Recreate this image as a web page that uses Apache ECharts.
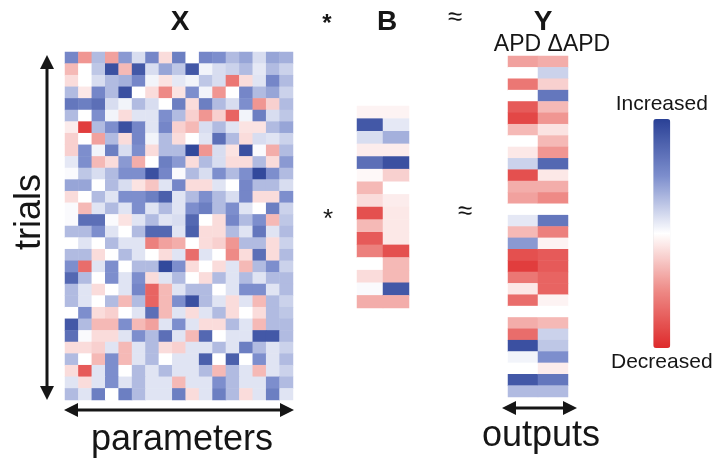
<!DOCTYPE html>
<html>
<head>
<meta charset="utf-8">
<script src="https://cdn.jsdelivr.net/npm/echarts@6/dist/echarts.min.js"></script>
<style>html,body{margin:0;padding:0;background:#fff}#c{width:716px;height:466px}</style>
</head>
<body>
<div id="c"></div>
<script>
// ---- data (values: +1 = increased / blue, -1 = decreased / red) ----
const xParams = Array.from({length: 17}, (_, i) => 'p' + (i + 1));
const trials = Array.from({length: 30}, (_, i) => 't' + (i + 1));
const outputs = ['APD', 'ΔAPD'];
const bRows = Array.from({length: 16}, (_, i) => 'b' + (i + 1));

const X_values = [
  [0.55,-0.45,0.3,-0.4,0.45,0.15,0.55,-0.15,0.6,0.0,0.55,0.5,0.3,0.4,0.15,0.4,0.35],
  [-0.3,0.0,0.25,0.9,-0.3,0.85,0.15,0.4,0.25,0.85,0.05,0.15,0.2,0.3,0.1,0.3,0.2],
  [-0.15,0.0,0.15,0.3,0.35,0.55,0.05,-0.12,0.1,0.05,0.25,0.15,-0.6,-0.15,0.12,0.55,0.3],
  [0.3,-0.1,0.55,0.3,0.9,0.0,-0.15,-0.5,-0.12,0.5,0.05,-0.45,0.0,0.55,0.3,0.4,0.2],
  [0.65,0.6,0.7,0.15,0.05,0.3,0.15,0.0,0.6,-0.15,0.6,0.3,0.15,0.5,-0.45,-0.2,0.3],
  [0.3,0.0,0.5,0.05,-0.15,0.12,0.12,0.5,0.3,-0.2,-0.45,-0.2,-0.7,0.05,0.6,0.15,0.25],
  [-0.08,-0.9,0.3,0.5,0.9,0.55,0.12,0.55,-0.2,-0.3,0.15,0.3,0.12,-0.12,-0.12,0.3,0.4],
  [-0.2,0.0,-0.4,0.3,-0.15,0.55,0.05,0.3,-0.15,0.0,0.12,0.7,0.3,-0.15,0.15,0.12,0.2],
  [-0.2,0.5,0.05,0.6,0.15,0.5,-0.15,0.3,0.3,0.95,-0.45,0.15,-0.12,0.9,0.02,-0.35,0.3],
  [0.1,0.5,-0.3,-0.15,0.45,-0.35,0.0,0.6,0.45,-0.15,0.3,0.15,-0.15,-0.15,0.3,-0.15,0.45],
  [0.02,0.25,0.15,0.3,0.5,0.5,0.9,0.55,0.02,0.3,0.15,0.5,0.3,0.5,0.95,0.5,0.3],
  [0.4,0.4,0.0,0.3,0.15,-0.12,-0.25,0.12,0.55,-0.15,-0.15,0.12,0.0,0.55,0.3,0.3,0.15],
  [-0.15,0.0,0.3,0.12,0.5,0.5,0.6,0.8,0.12,0.3,0.5,0.3,0.15,0.55,-0.15,-0.15,0.5],
  [0.02,-0.3,0.12,0.3,0.12,0.5,0.12,0.3,0.12,0.5,0.6,0.3,0.5,0.12,0.0,0.6,0.2],
  [0.02,0.7,0.7,0.02,-0.12,0.12,0.3,0.12,0.15,0.75,0.0,-0.15,0.55,0.3,0.5,-0.3,0.25],
  [0.3,0.3,0.5,0.12,0.0,0.3,0.75,0.75,0.12,0.8,-0.15,-0.15,0.3,0.12,0.65,0.12,0.3],
  [0.0,0.12,0.0,0.3,0.12,0.12,-0.55,-0.4,-0.35,0.0,-0.15,-0.2,-0.45,0.3,0.3,-0.15,0.2],
  [0.3,0.3,-0.15,0.0,0.3,0.12,0.0,-0.15,0.12,-0.65,0.12,0.0,-0.5,-0.15,0.7,-0.15,0.3],
  [0.5,-0.65,0.12,0.5,0.0,0.3,0.3,0.95,0.5,-0.15,0.0,-0.15,0.12,-0.3,0.3,0.5,0.2],
  [0.75,0.3,0.0,0.5,0.12,0.5,-0.15,0.12,0.3,0.0,-0.15,0.3,0.12,0.3,0.12,0.3,0.3],
  [0.3,0.12,-0.15,0.0,0.12,0.55,-0.7,-0.3,0.12,0.3,0.3,0.0,0.12,0.5,0.5,0.12,0.3],
  [0.3,0.12,0.0,0.3,-0.3,0.3,-0.7,-0.3,0.5,0.9,0.3,0.12,-0.15,0.12,-0.3,0.3,0.2],
  [0.0,0.5,-0.15,-0.2,0.0,0.12,0.7,-0.3,0.12,-0.15,0.12,0.3,-0.15,0.0,-0.15,0.3,0.25],
  [0.85,0.3,-0.3,-0.3,0.5,-0.3,-0.4,0.12,0.5,0.12,-0.15,-0.15,0.3,0.12,-0.3,0.3,0.3],
  [0.7,0.02,-0.15,-0.15,0.12,0.5,0.3,0.7,0.12,-0.3,0.75,0.0,0.12,0.12,0.85,0.85,0.3],
  [-0.15,-0.15,-0.2,0.12,-0.3,0.12,0.3,-0.15,-0.2,0.12,0.12,0.3,0.12,0.6,0.3,0.12,0.2],
  [0.3,0.0,-0.3,0.5,-0.3,0.12,0.3,0.0,0.12,0.12,0.8,0.0,0.8,0.0,0.5,0.12,0.3],
  [-0.15,-0.75,0.12,0.5,0.0,0.3,0.12,0.3,0.12,0.12,0.3,-0.3,0.3,0.12,-0.3,0.12,0.2],
  [0.12,-0.15,0.12,0.5,0.12,0.3,0.12,0.12,-0.3,0.12,0.12,0.5,0.3,0.12,0.12,0.5,0.3],
  [0.3,0.12,0.6,0.0,0.6,0.3,0.12,0.12,0.6,-0.15,0.12,0.6,0.3,-0.15,0.12,0.6,0.12]
];

const B_col1 = [-0.05,0.85,0.15,-0.08,0.7,-0.03,-0.3,-0.15,-0.8,-0.3,-0.75,-0.55,0.0,-0.15,0.02,-0.35];
const B_col2 = [-0.05,0.1,0.35,-0.08,0.9,-0.2,0.0,-0.08,-0.1,-0.1,-0.1,-0.8,-0.3,-0.3,0.85,-0.35];

const Y_APD  = [-0.4,0.0,-0.6,0.0,-0.75,-0.85,-0.3,0.0,-0.1,0.2,-0.8,-0.35,-0.4,0.0,0.1,-0.3,0.45,-0.8,-0.9,-0.6,-0.1,-0.65,0.0,-0.35,-0.65,0.9,0.05,0.0,0.85,0.3];
const Y_dAPD = [-0.35,0.2,-0.2,0.65,-0.3,-0.45,-0.12,-0.3,-0.45,0.75,-0.1,-0.35,-0.5,0.0,0.65,-0.55,-0.05,-0.75,-0.75,-0.7,-0.7,-0.05,0.0,-0.3,0.2,0.25,0.5,-0.08,0.65,0.3];

// ---- build heatmap triples ----
const xData = [];
X_values.forEach((row, r) => row.forEach((v, c) => xData.push([c, r, v])));
const bData = [];
B_col1.forEach((v, r) => bData.push([0, r, v]));
B_col2.forEach((v, r) => bData.push([1, r, v]));
const yData = [];
Y_APD.forEach((v, r) => yData.push([0, r, v]));
Y_dAPD.forEach((v, r) => yData.push([1, r, v]));

const FONT = "'Liberation Sans', Arial, sans-serif";
const ink = '#161616';

function catAxis(data, gridIndex, inverse) {
  return {type: 'category', data: data, gridIndex: gridIndex, show: false, inverse: !!inverse,
          axisLine: {show: false}, axisTick: {show: false}, splitLine: {show: false}};
}

function arrowH(x1, x2, y, lw, hl, hw) {
  return [
    {type: 'line', shape: {x1: x1 + hl - 2, y1: y, x2: x2 - hl + 2, y2: y}, style: {stroke: ink, lineWidth: lw}},
    {type: 'polygon', shape: {points: [[x1, y], [x1 + hl, y - hw], [x1 + hl, y + hw]]}, style: {fill: ink}},
    {type: 'polygon', shape: {points: [[x2, y], [x2 - hl, y - hw], [x2 - hl, y + hw]]}, style: {fill: ink}}
  ];
}
function arrowV(x, y1, y2, lw, hl, hw) {
  return [
    {type: 'line', shape: {x1: x, y1: y1 + hl - 2, x2: x, y2: y2 - hl + 2}, style: {stroke: ink, lineWidth: lw}},
    {type: 'polygon', shape: {points: [[x, y1], [x - hw, y1 + hl], [x + hw, y1 + hl]]}, style: {fill: ink}},
    {type: 'polygon', shape: {points: [[x, y2], [x - hw, y2 - hl], [x + hw, y2 - hl]]}, style: {fill: ink}}
  ];
}
function txt(text, x, y, size, weight, extra) {
  return Object.assign({type: 'text', x: x, y: y,
    style: {text: text, fontSize: size, fontWeight: weight || 'normal', fontFamily: FONT,
            fill: ink, align: 'center', verticalAlign: 'middle'}}, extra || {});
}

const chart = echarts.init(document.getElementById('c'), null, {renderer: 'canvas'});
chart.setOption({
  backgroundColor: '#ffffff',
  animation: false,
  grid: [
    {left: 65, top: 52, width: 228, height: 348},
    {left: 357, top: 106, width: 52, height: 202},
    {left: 508, top: 56, width: 60, height: 341}
  ],
  xAxis: [catAxis(xParams, 0), catAxis(['b1', 'b2'], 1), catAxis(outputs, 2)],
  yAxis: [catAxis(trials, 0, true), catAxis(bRows, 1, true), catAxis(trials, 2, true)],
  visualMap: {
    type: 'continuous', min: -1, max: 1, calculable: false, orient: 'vertical',
    left: 611, top: 94, itemWidth: 17, itemHeight: 229, textGap: 4, padding: 0,
    text: ['Increased', 'Decreased'],
    textStyle: {fontSize: 21, fontFamily: FONT, color: ink},
    inRange: {color: ['#de2a2b', '#ee8a86', '#ffffff', '#7d8ecd', '#2a4196']}
  },
  series: [
    {type: 'heatmap', name: 'X', xAxisIndex: 0, yAxisIndex: 0, data: xData, itemStyle: {borderWidth: 0}},
    {type: 'heatmap', name: 'B', xAxisIndex: 1, yAxisIndex: 1, data: bData, itemStyle: {borderWidth: 0}},
    {type: 'heatmap', name: 'Y', xAxisIndex: 2, yAxisIndex: 2, data: yData, itemStyle: {borderWidth: 0}}
  ],
  graphic: [].concat(
    [
      txt('X', 180, 22, 28, 'bold'),
      txt('*', 327, 24, 24, 'bold'),
      txt('B', 387, 22, 28, 'bold'),
      txt('≈', 455, 18, 26, 'normal'),
      txt('Y', 543, 22, 28, 'bold'),
      txt('APD ΔAPD', 552, 45, 23, 'normal'),
      txt('*', 328, 220, 26, 'normal'),
      txt('≈', 465, 212, 26, 'normal'),
      txt('trials', 30, 212, 36, 'normal', {rotation: Math.PI / 2}),
      txt('parameters', 182, 440, 36, 'normal'),
      txt('outputs', 541, 436, 36, 'normal')
    ],
    arrowV(47, 55, 400, 3, 14, 7),
    arrowH(64, 294, 410, 3, 14, 7),
    arrowH(502, 577, 408, 3, 14, 7)
  )
});
</script>
</body>
</html>
